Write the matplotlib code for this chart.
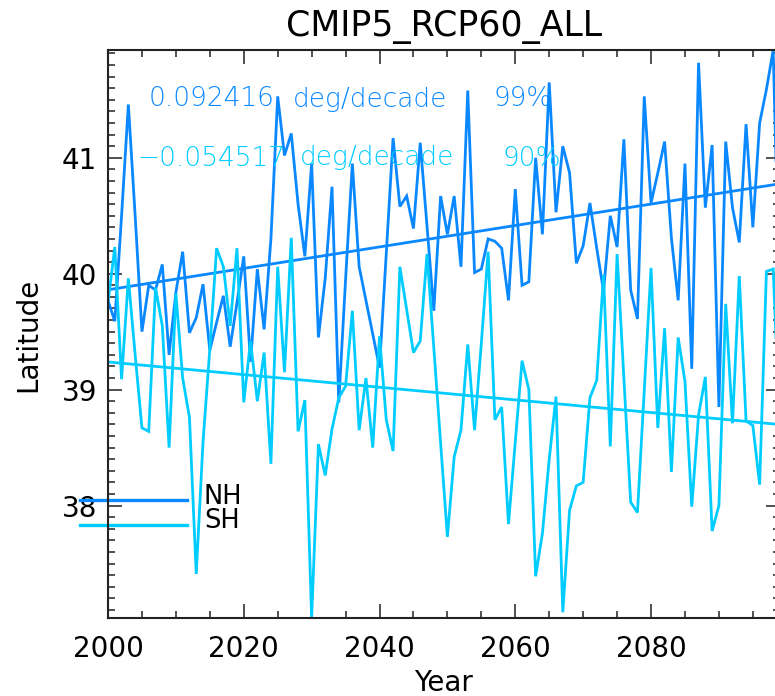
import numpy as np
import matplotlib
matplotlib.use("Agg")
import matplotlib.pyplot as plt
from matplotlib.ticker import MultipleLocator

# ---------------- data ----------------
years = np.arange(2000, 2100)

nh_lat = [39.77, 39.59, 40.50, 41.46, 40.50, 39.50, 39.90, 39.86, 40.08, 39.30,
          39.84, 40.19, 39.49, 39.62, 39.91, 39.34, 39.58, 39.81, 39.37, 39.75,
          40.15, 39.24, 40.04, 39.52, 40.30, 41.53, 41.02, 41.21, 40.60, 40.15,
          40.95, 39.45, 39.96, 40.75, 38.89, 39.95, 40.95, 40.06, 39.77, 39.48,
          39.19, 40.18, 41.17, 40.58, 40.67, 40.39, 41.13, 40.41, 39.68, 40.67,
          40.34, 40.67, 40.06, 41.58, 40.01, 40.04, 40.30, 40.28, 40.22, 39.77,
          40.73, 39.90, 39.93, 41.00, 40.34, 41.65, 40.53, 41.10, 40.87, 40.09,
          40.24, 40.61, 40.22, 39.85, 40.50, 40.23, 41.16, 39.86, 39.61, 41.53,
          40.61, 40.87, 41.14, 40.31, 39.77, 40.95, 39.18, 41.82, 40.57, 41.11,
          38.85, 41.14, 40.57, 40.27, 41.29, 40.40, 41.30, 41.59, 41.93, 39.60]

sh_lat = [39.75, 40.23, 39.09, 39.96, 39.30, 38.67, 38.64, 39.88, 39.55, 38.50,
          39.83, 39.10, 38.76, 37.41, 38.55, 39.35, 40.22, 40.06, 39.55, 40.22,
          38.89, 39.42, 38.90, 39.32, 38.36, 40.06, 39.15, 40.31, 38.64, 38.91,
          37.03, 38.53, 38.26, 38.66, 38.93, 39.03, 39.68, 38.65, 39.10, 38.50,
          39.46, 38.74, 38.47, 40.06, 39.69, 39.32, 39.42, 40.17, 39.36, 38.54,
          37.73, 38.42, 38.65, 39.39, 38.65, 39.40, 40.19, 38.74, 38.85, 37.84,
          38.55, 39.25, 39.00, 37.39, 37.76, 38.40, 38.94, 37.08, 37.96, 38.17,
          38.20, 38.93, 39.08, 39.99, 38.51, 40.17, 39.10, 38.03, 37.94, 38.99,
          40.05, 38.67, 39.53, 38.29, 39.45, 39.07, 37.99, 38.78, 39.11, 37.78,
          38.00, 39.74, 38.71, 39.98, 38.73, 38.69, 38.18, 40.02, 40.04, 38.60]

series_names = ["NH", "SH"]
trend_per_decade = [0.092416, -0.054517]
rate_text = ["0.092416", "\u22120.054517"]
unit_text = "deg/decade"
conf_text = ["99%", "90%"]
title_text = "CMIP5_RCP60_ALL"
xticks = [2000, 2020, 2040, 2060, 2080]
yticks = [38, 39, 40, 41]

# ---------------- style ----------------
c_nh = "#0a88ff"
c_sh = "#00ccff"
W, H = 775, 696

fig = plt.figure(figsize=(W / 100, H / 100), dpi=100)
ax_l, ax_r, ax_t, ax_b = 108, 780, 50, 618
ax = fig.add_axes([ax_l / W, 1 - ax_b / H, (ax_r - ax_l) / W, (ax_b - ax_t) / H])
ax.patch.set_facecolor("white")

yrs = np.array(years, dtype=float)
nh = np.array(nh_lat)
sh = np.array(sh_lat)


def trend(vals, per_decade):
    slope = per_decade / 10.0
    return vals.mean() + slope * (yrs - yrs.mean())


ax.plot(yrs, nh, color=c_nh, lw=2.0, solid_joinstyle="miter")
ax.plot(yrs, trend(nh, trend_per_decade[0]), color=c_nh, lw=2.0)
ax.plot(yrs, sh, color=c_sh, lw=2.0, solid_joinstyle="miter")
ax.plot(yrs, trend(sh, trend_per_decade[1]), color=c_sh, lw=2.0)

ax.set_xlim(2000, 2099)
ax.set_ylim(37.03, 41.93)
ax.set_xticks(xticks)
ax.set_yticks(yticks)
ax.xaxis.set_minor_locator(MultipleLocator(5))
ax.yaxis.set_minor_locator(MultipleLocator(0.1))
ax.tick_params(which="both", direction="in", top=True, right=True,
               color="#333333", width=1.2)
ax.tick_params(which="major", length=10)
ax.tick_params(which="minor", length=5)
ax.tick_params(axis="x", which="major", labelsize=20, pad=12)
ax.tick_params(axis="y", which="major", labelsize=20, pad=8)
for s in ax.spines.values():
    s.set_color("#222222")
    s.set_linewidth(1.5)

# titles / labels
fig.text(444 / W, 1 - 36 / H, title_text, ha="center", va="baseline", fontsize=25)
fig.text(443 / W, 1 - 691 / H, "Year", ha="center", va="baseline", fontsize=20)
fig.text(28 / W, 1 - 335 / H, "Latitude", ha="center", va="center",
         rotation=90, fontsize=20)


def axx(px):
    return (px - ax_l) / (ax_r - ax_l)


def axy(py):
    return (ax_b - py) / (ax_b - ax_t)


# trend annotations
ann = dict(fontsize=19, fontweight="light", va="center", ha="left",
           transform=ax.transAxes)
ax.text(axx(149), axy(99), rate_text[0], color=c_nh, **ann)
ax.text(axx(293), axy(99), unit_text, color=c_nh, **ann)
ax.text(axx(494), axy(99), conf_text[0], color=c_nh, **ann)
ax.text(axx(137), axy(158), rate_text[1], color=c_sh, **ann)
ax.text(axx(300), axy(158), unit_text, color=c_sh, **ann)
ax.text(axx(503), axy(158), conf_text[1], color=c_sh, **ann)

# legend
for name, col, ly, ty in [(series_names[0], c_nh, 500, 497),
                          (series_names[1], c_sh, 525, 521)]:
    ax.plot([axx(80), axx(187)], [axy(ly), axy(ly)], color=col, lw=2.4,
            transform=ax.transAxes, clip_on=False)
    ax.text(axx(204), axy(ty), name, fontsize=18.5, va="center", ha="left",
            transform=ax.transAxes)

fig.savefig("out.png", dpi=100)
